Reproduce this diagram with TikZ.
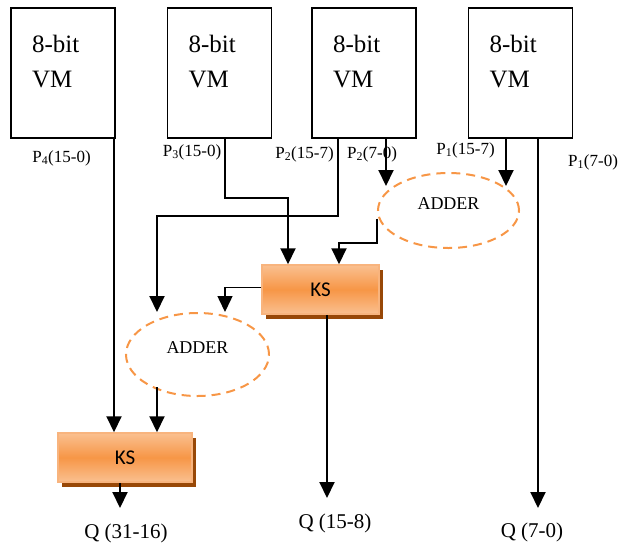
\documentclass[tikz,border=0pt]{standalone}
\usepackage{fontspec}
\setmainfont{Liberation Serif}
\newfontfamily\ksfont{Carlito}
\usetikzlibrary{positioning,shapes.geometric,arrows.meta,shadows}

\definecolor{kslight}{HTML}{FAC090}
\definecolor{ksmid}{HTML}{F79646}
\definecolor{ksedge}{HTML}{F8B47E}
\definecolor{ksdark}{HTML}{984807}

\tikzset{
  vmbox/.style={draw, line width=1.5pt, minimum width=104pt, minimum height=130pt,
    inner sep=0pt, align=left, text width=62pt, text height=17pt, text depth=59pt,
    font=\fontsize{25}{35}\selectfont},
  plabel/.style={inner sep=0pt, font=\fontsize{17}{20}\selectfont},
  qlabel/.style={inner sep=0pt, font=\fontsize{21}{24}\selectfont},
  adder/.style={ellipse, draw=ksmid, line width=2pt, dash pattern=on 9pt off 6pt,
    minimum width=141pt, minimum height=75pt, inner sep=0pt,
    text height=12pt, text depth=15pt, font=\fontsize{18}{20}\selectfont},
  ksbox/.style={rectangle, draw=ksedge, line width=1.5pt, minimum height=49pt,
    top color=kslight, bottom color=kslight, middle color=ksmid,
    drop shadow={shadow xshift=4pt, shadow yshift=-5pt, fill=ksdark, opacity=1},
    font=\ksfont\fontsize{21}{24}\selectfont},
  arr/.style={-{Triangle[width=15pt,length=16pt]}, line width=2pt}
}

\begin{document}
\begin{tikzpicture}[x=1pt,y=-1pt]
  \useasboundingbox (0,0) rectangle (619,542);

  % --- VM blocks ---
  \node[vmbox] (vm1) at (63,73) {8-bit\\VM};
  \node[vmbox, right=51pt of vm1] (vm2) {8-bit\\VM};
  \node[vmbox, right=39pt of vm2] (vm3) {8-bit\\VM};
  \node[vmbox, right=51pt of vm3] (vm4) {8-bit\\VM};

  % --- Partial products ---
  \node[plabel] (p4) at (61.5,158) {P\textsubscript{4}(15-0)};
  \node[plabel] (p3) at (192,152) {P\textsubscript{3}(15-0)};
  \node[plabel] (p2h) at (304.5,154) {P\textsubscript{2}(15-7)};
  \node[plabel] (p2l) at (372,154) {P\textsubscript{2}(7-0)};
  \node[plabel] (p1h) at (465.5,150) {P\textsubscript{1}(15-7)};
  \node[plabel] (p1l) at (593,162) {P\textsubscript{1}(7-0)};

  % --- Adders and KS stages ---
  \node[adder] (add1) at (448.5,210.5) {ADDER};
  \node[adder, minimum width=143pt, minimum height=83pt] (add2) at (197.5,354.5) {ADDER};
  \node[ksbox, minimum width=117pt] (ks1) at (320.5,289.5) {KS};
  \node[ksbox, minimum width=134pt] (ks2) at (125,457.5) {KS};

  % --- Outputs ---
  \node[qlabel] (q1) at (126,533) {Q (31-16)};
  \node[qlabel] (q2) at (335,523) {Q (15-8)};
  \node[qlabel] (q3) at (532,532) {Q (7-0)};
  \coordinate (q1end) at (120,508);
  \coordinate (q2end) at (327,498);
  \coordinate (q3end) at (538,508);

  % --- Wiring ---
  \draw[arr] (vm1.south -| 114,0) -- (ks2.north -| 114,0);
  \draw[arr] (vm2.south -| 225,0) -- ++(0,59) -| (ks1.north -| 288,0);
  \draw[arr] (vm3.south -| 338,0) -- ++(0,77) -| (add2.north -| 157,0);
  \draw[arr] (vm3.south -| 386,0) -- ([yshift=-14pt]add1.north -| 386,0);
  \draw[arr] (vm4.south -| 506,0) -- ([yshift=-14pt]add1.north -| 506,0);
  \draw[arr] (vm4.south -| 538,0) -- (q3end);
  \draw[arr] ([yshift=-8pt]add1.west) -- ++(0,24) -| (ks1.north -| 339,0);
  \draw[arr, line width=1.5pt] ([yshift=2pt]ks1.west) -| (add2.north -| 225,0);
  \draw[arr] ([yshift=10pt]add2.south -| 157,0) -- (ks2.north -| 157,0);
  \draw[arr] (ks2.south -| 120,0) -- (q1end);
  \draw[arr] (ks1.south -| 327,0) -- (q2end);
\end{tikzpicture}
\end{document}
